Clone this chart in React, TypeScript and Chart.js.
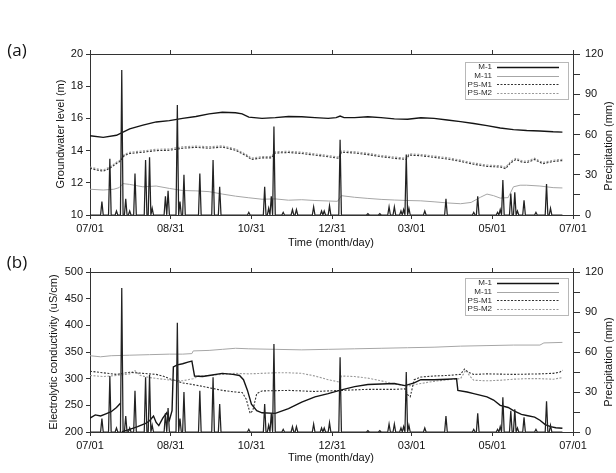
import React, { useEffect, useRef } from 'react';
import { Chart, registerables } from 'chart.js';

Chart.register(...registerables);

// Time axis: days since 07/01
const TICK_DAYS = [0, 61, 122, 183, 243, 304, 365];
const TICK_LABELS = ['07/01', '08/31', '10/31', '12/31', '03/01', '05/01', '07/01'];

// Daily precipitation events (mm)
const RAIN_DAYS = [9, 15, 20, 24, 27, 30, 34, 42, 45, 47, 57, 59, 66, 68, 71, 83, 93, 98, 120, 132, 135, 137, 139, 146, 153, 156, 169, 175, 177, 181, 189, 210, 219, 226, 230, 235, 237, 239, 241, 253, 269, 290, 293, 308, 310, 312, 318, 321, 323, 328, 337, 345, 348];
const RAIN_MM = [10, 42, 3, 108, 12, 3, 31, 41, 43, 5, 14, 18, 82, 10, 30, 31, 41, 21, 2, 21, 5, 14, 66, 2, 4, 4, 6, 3, 3, 7, 56, 1, 1, 6, 6, 3, 4, 45, 5, 3, 12, 2, 14, 2, 4, 26, 16, 17, 3, 11, 2, 23, 5];

// (a) Groundwater level (m)
const GWL_M1_DAYS = [0, 10, 20, 30, 40, 50, 60, 70, 80, 90, 100, 110, 115, 120, 130, 140, 150, 160, 170, 180, 186, 189, 192, 200, 210, 220, 230, 240, 250, 260, 270, 280, 290, 300, 310, 320, 330, 340, 350, 357];
const GWL_M1 = [14.92, 14.82, 14.95, 15.35, 15.58, 15.78, 15.86, 16.0, 16.12, 16.28, 16.38, 16.35, 16.28, 16.08, 16.0, 16.05, 16.12, 16.1, 16.05, 16.0, 16.05, 16.15, 16.05, 16.05, 16.1, 16.05, 15.97, 15.95, 16.04, 16.0, 15.9, 15.8, 15.68, 15.55, 15.4, 15.3, 15.25, 15.22, 15.17, 15.15];

const GWL_M11_DAYS = [0, 10, 18, 22, 25, 30, 40, 50, 60, 70, 80, 90, 100, 110, 120, 130, 140, 150, 160, 170, 180, 187, 190, 200, 210, 220, 230, 240, 250, 260, 270, 280, 288, 295, 300, 305, 310, 316, 320, 325, 330, 340, 350, 357];
const GWL_M11 = [11.6, 11.55, 11.6, 11.7, 11.95, 11.9, 11.75, 11.8, 11.65, 11.52, 11.5, 11.45, 11.3, 11.17, 11.07, 10.98, 11.0, 10.92, 10.95, 10.9, 10.87, 10.85, 11.2, 11.1, 11.03, 10.97, 10.93, 10.9, 10.88, 10.82, 10.75, 10.7, 10.78, 11.1, 11.3, 11.2, 11.05, 11.08, 11.75, 11.85, 11.85, 11.8, 11.7, 11.68];

const GWL_PS_DAYS = [0, 5, 10, 15, 20, 23, 26, 30, 40, 50, 60, 70, 80, 90, 100, 110, 118, 122, 130, 137, 140, 150, 160, 170, 180, 188, 190, 200, 210, 220, 230, 239, 241, 250, 260, 270, 280, 290, 300, 310, 314, 318, 322, 326, 330, 336, 342, 350, 357];
const GWL_PSM1 = [12.9, 12.8, 12.72, 12.9, 13.2, 13.35, 13.7, 13.82, 13.9, 14.0, 14.02, 14.15, 14.2, 14.15, 14.22, 14.02, 13.68, 13.45, 13.55, 13.55, 13.85, 13.88, 13.82, 13.72, 13.62, 13.52, 13.9, 13.85, 13.75, 13.62, 13.52, 13.45, 13.72, 13.68, 13.58, 13.48, 13.33, 13.15, 13.02, 12.98, 12.88, 13.25, 13.45, 13.3, 13.25, 13.45, 13.18, 13.32, 13.38];
const GWL_PSM2 = [12.98, 12.88, 12.8, 12.98, 13.28, 13.42, 13.78, 13.9, 13.98, 14.08, 14.1, 14.24, 14.28, 14.24, 14.3, 14.1, 13.76, 13.54, 13.63, 13.64, 13.93, 13.96, 13.9, 13.8, 13.7, 13.6, 13.98, 13.93, 13.83, 13.7, 13.6, 13.53, 13.8, 13.76, 13.66, 13.56, 13.41, 13.23, 13.1, 13.06, 12.96, 13.33, 13.53, 13.38, 13.33, 13.53, 13.26, 13.4, 13.46];

// (b) Electrolytic conductivity (uS/cm)
const EC_M1_DAYS = [0, 4, 8, 12, 16, 20, 23, 23.5, 24, 30, 36, 42, 45, 48, 50, 52, 55, 58, 60, 62, 63, 66, 70, 74, 77, 79, 85, 90, 100, 108, 113, 116, 119, 122, 126, 130, 140, 150, 160, 170, 180, 190, 200, 210, 220, 230, 238, 245, 250, 260, 270, 277, 278, 285, 290, 300, 305, 310, 316, 320, 326, 330, 336, 340, 344, 348, 352, 357];
const EC_M1 = [226, 232, 230, 234, 238, 246, 254, null, 200, 205, 210, 216, 221, 230, 218, 212, 226, 236, 222, 240, 322, 326, 328, 331, 333, 305, 304, 306, 310, 308, 306, 298, 278, 252, 240, 236, 235, 244, 256, 266, 272, 279, 285, 289, 290, 291, 287, 292, 298, 298, 299, 300, 278, 275, 272, 266, 260, 250, 246, 240, 233, 231, 228, 222, 214, 210, 208, 207];

const EC_M11_DAYS = [0, 8, 16, 30, 45, 60, 70, 77, 78, 90, 100, 110, 120, 140, 160, 180, 200, 220, 240, 260, 280, 300, 320, 340, 343, 357];
const EC_M11 = [343, 341, 343, 344, 345, 346, 346, 347, 352, 353, 355, 357, 356, 355, 354, 355, 356, 357, 358, 359, 361, 362, 363, 363, 367, 368];

const EC_PSM1_DAYS = [0, 10, 20, 30, 40, 50, 55, 60, 65, 70, 80, 90, 100, 110, 115, 118, 121, 123, 126, 130, 150, 170, 190, 210, 230, 238, 240, 242, 245, 250, 260, 270, 280, 283, 286, 290, 300, 320, 340, 350, 355, 357];
const EC_PSM1 = [314, 311, 308, 312, 310, 308, 305, 300, 296, 292, 288, 283, 278, 275, 274, 262, 235, 240, 272, 277, 278, 276, 278, 280, 280, 281, 270, 266, 298, 303, 305, 306, 308, 318, 312, 308, 309, 308, 309, 310, 312, 316];

const EC_PSM2_DAYS = [0, 10, 20, 30, 34, 38, 45, 55, 62, 70, 78, 82, 90, 100, 110, 120, 130, 140, 150, 160, 170, 180, 188, 190, 200, 210, 220, 230, 240, 250, 260, 270, 280, 284, 287, 290, 300, 310, 320, 330, 340, 350, 357];
const EC_PSM2 = [306, 304, 306, 309, 315, 306, 302, 299, 297, 296, 300, 305, 306, 308, 310, 309, 310, 311, 311, 310, 305, 298, 294, 305, 304, 301, 296, 290, 286, 291, 295, 298, 300, 316, 305, 297, 296, 297, 299, 300, 300, 299, 302];

const FONT = '"Liberation Sans", Arial, Helvetica, sans-serif';
const INK = '#111111';

const pts = (days: number[], vals: (number | null)[]) => days.map((d, i) => ({ x: d, y: vals[i] }));

const rainSeries = () => {
  const byDay = new Map<number, number>();
  RAIN_DAYS.forEach((d, i) => byDay.set(d, RAIN_MM[i]));
  const out: { x: number; y: number }[] = [];
  for (let d = 0; d <= 357; d++) out.push({ x: d, y: byDay.get(d) ?? 0 });
  return out;
};

// Boxed key in the upper right of the plot: name, then line sample
const seriesKey = {
  id: 'seriesKey',
  afterDatasetsDraw(chart: any, _args: any, opts: any) {
    const { ctx, chartArea } = chart;
    const items = chart.data.datasets.filter((d: any) => d.yAxisID === 'y');
    const w = 103;
    const h = 37;
    const rowH = 8.7;
    const x0 = Math.round(chartArea.right - 5 - w);
    const y0 = Math.round(chartArea.top + (opts.offsetY ?? 8));
    ctx.save();
    ctx.fillStyle = '#ffffff';
    ctx.fillRect(x0, y0, w, h);
    ctx.strokeStyle = '#b8b8b8';
    ctx.lineWidth = 1;
    ctx.strokeRect(x0 + 0.5, y0 + 0.5, w, h);
    ctx.font = `8px ${FONT}`;
    ctx.textAlign = 'right';
    ctx.textBaseline = 'middle';
    items.forEach((d: any, i: number) => {
      const y = y0 + 5 + i * rowH;
      ctx.fillStyle = '#2a2a2a';
      ctx.fillText(d.label, x0 + 27, y);
      ctx.beginPath();
      ctx.setLineDash(d.borderDash || []);
      ctx.strokeStyle = d.borderColor;
      ctx.lineWidth = d.borderWidth;
      ctx.moveTo(x0 + 32, Math.round(y) + 0.5);
      ctx.lineTo(x0 + 94, Math.round(y) + 0.5);
      ctx.stroke();
    });
    ctx.restore();
  },
};

type PanelSpec = {
  height: number;
  topH: number;
  bottomH: number;
  yMin: number;
  yMax: number;
  yStep: number;
  keyOffset: number;
  lines: { label: string; days: number[]; vals: (number | null)[] }[];
};

const LINE_STYLES = [
  { borderColor: '#141414', borderWidth: 1.4, borderDash: [] as number[] },
  { borderColor: '#a6a6a6', borderWidth: 1, borderDash: [] as number[] },
  { borderColor: '#333333', borderWidth: 1.1, borderDash: [2, 1.5] },
  { borderColor: '#999999', borderWidth: 1.1, borderDash: [2, 1.5] },
];

const tickFont = { family: FONT, size: 11 };

const timeTicks = (scale: any) => {
  scale.ticks = TICK_DAYS.map((v) => ({ value: v }));
};

function buildConfig(spec: PanelSpec): any {
  const datasets: any[] = [
    {
      label: 'Precipitation',
      data: rainSeries(),
      yAxisID: 'y1',
      xAxisID: 'x',
      borderColor: '#222222',
      borderWidth: 1.25,
      pointRadius: 0,
      tension: 0,
    },
    ...spec.lines.map((l, i) => ({
      label: l.label,
      data: pts(l.days, l.vals),
      yAxisID: 'y',
      xAxisID: 'x',
      pointRadius: 0,
      tension: 0,
      spanGaps: false,
      ...LINE_STYLES[i],
    })),
  ];
  const axisGrid = { drawOnChartArea: false, drawTicks: true, tickLength: 4, color: '#333' };
  const border = { display: true, color: '#333', width: 1 };
  return {
    type: 'line',
    data: { datasets },
    plugins: [seriesKey],
    options: {
      responsive: false,
      maintainAspectRatio: false,
      animation: false,
      devicePixelRatio: 1,
      layout: { padding: 0 },
      plugins: {
        legend: { display: false },
        tooltip: { enabled: false },
        title: { display: false },
        seriesKey: { offsetY: spec.keyOffset },
      },
      scales: {
        x: {
          type: 'linear',
          position: 'bottom',
          min: 0,
          max: 365,
          afterBuildTicks: timeTicks,
          ticks: {
            callback: (_v: any, i: number) => TICK_LABELS[i],
            font: tickFont,
            color: INK,
            padding: 3,
            maxRotation: 0,
            autoSkip: false,
          },
          grid: axisGrid,
          border,
          afterFit: (s: any) => {
            s.height = spec.bottomH;
          },
        },
        x2: {
          type: 'linear',
          axis: 'x',
          position: 'top',
          min: 0,
          max: 365,
          afterBuildTicks: timeTicks,
          ticks: { display: false },
          grid: axisGrid,
          border,
          afterFit: (s: any) => {
            s.height = spec.topH;
          },
        },
        y: {
          type: 'linear',
          position: 'left',
          min: spec.yMin,
          max: spec.yMax,
          ticks: { stepSize: spec.yStep, font: tickFont, color: INK, padding: 3 },
          grid: axisGrid,
          border,
          afterFit: (s: any) => {
            s.width = 90;
          },
        },
        y1: {
          type: 'linear',
          position: 'right',
          min: 0,
          max: 120,
          ticks: {
            stepSize: 15,
            font: tickFont,
            color: INK,
            padding: 5,
            callback: (v: number) => (v % 30 === 0 ? String(v) : ''),
          },
          grid: { ...axisGrid, tickLength: 7 },
          border,
          afterFit: (s: any) => {
            s.width = 43;
          },
        },
      },
    },
  };
}

const PANEL_A: PanelSpec = {
  height: 245,
  topH: 54,
  bottomH: 30,
  yMin: 10,
  yMax: 20,
  yStep: 2,
  keyOffset: 8,
  lines: [
    { label: 'M-1', days: GWL_M1_DAYS, vals: GWL_M1 },
    { label: 'M-11', days: GWL_M11_DAYS, vals: GWL_M11 },
    { label: 'PS-M1', days: GWL_PS_DAYS, vals: GWL_PSM1 },
    { label: 'PS-M2', days: GWL_PS_DAYS, vals: GWL_PSM2 },
  ],
};

const PANEL_B: PanelSpec = {
  height: 228,
  topH: 27,
  bottomH: 41,
  yMin: 200,
  yMax: 500,
  yStep: 50,
  keyOffset: 6,
  lines: [
    { label: 'M-1', days: EC_M1_DAYS, vals: EC_M1 },
    { label: 'M-11', days: EC_M11_DAYS, vals: EC_M11 },
    { label: 'PS-M1', days: EC_PSM1_DAYS, vals: EC_PSM1 },
    { label: 'PS-M2', days: EC_PSM2_DAYS, vals: EC_PSM2 },
  ],
};

function Panel({ spec, top }: { spec: PanelSpec; top: number }) {
  const ref = useRef<HTMLCanvasElement>(null);
  useEffect(() => {
    if (!ref.current) return;
    const chart = new Chart(ref.current, buildConfig(spec));
    return () => chart.destroy();
  }, [spec]);
  return (
    <canvas
      ref={ref}
      width={616}
      height={spec.height}
      style={{ position: 'absolute', left: 0, top, width: 616, height: spec.height, display: 'block' }}
    />
  );
}

const textBase: React.CSSProperties = {
  position: 'absolute',
  fontFamily: FONT,
  color: '#111111',
  whiteSpace: 'nowrap',
  lineHeight: 1,
  zIndex: 2,
};

function Label({ x, y, text, rotate = 0, size = 11, family }: { x: number; y: number; text: string; rotate?: number; size?: number; family?: string }) {
  return (
    <div
      style={{
        ...textBase,
        fontSize: size,
        fontFamily: family ?? FONT,
        left: x,
        top: y,
        transform: `translate(-50%, -50%) rotate(${rotate}deg)`,
      }}
    >
      {text}
    </div>
  );
}

export default function App() {
  return (
    <div
      style={{
        position: 'fixed',
        left: 0,
        top: 0,
        width: 616,
        height: 473,
        background: '#ffffff',
        overflow: 'hidden',
      }}
    >
      <Panel spec={PANEL_A} top={0} />
      <Panel spec={PANEL_B} top={245} />

      <Label x={17} y={49} text="(a)" size={17} family='"Open Sans", sans-serif' />
      <Label x={60} y={134} text="Groundwater level (m)" rotate={-90} />
      <Label x={608} y={146} text="Precipitation (mm)" rotate={-90} />
      <Label x={331} y={242} text="Time (month/day)" />

      <Label x={17} y={261} text="(b)" size={17} family='"Open Sans", sans-serif' />
      <Label x={53} y={352} text="Electrolytic conductivity (uS/cm)" rotate={-90} />
      <Label x={608} y={362} text="Precipitation (mm)" rotate={-90} />
      <Label x={331} y={457} text="Time (month/day)" />
    </div>
  );
}
